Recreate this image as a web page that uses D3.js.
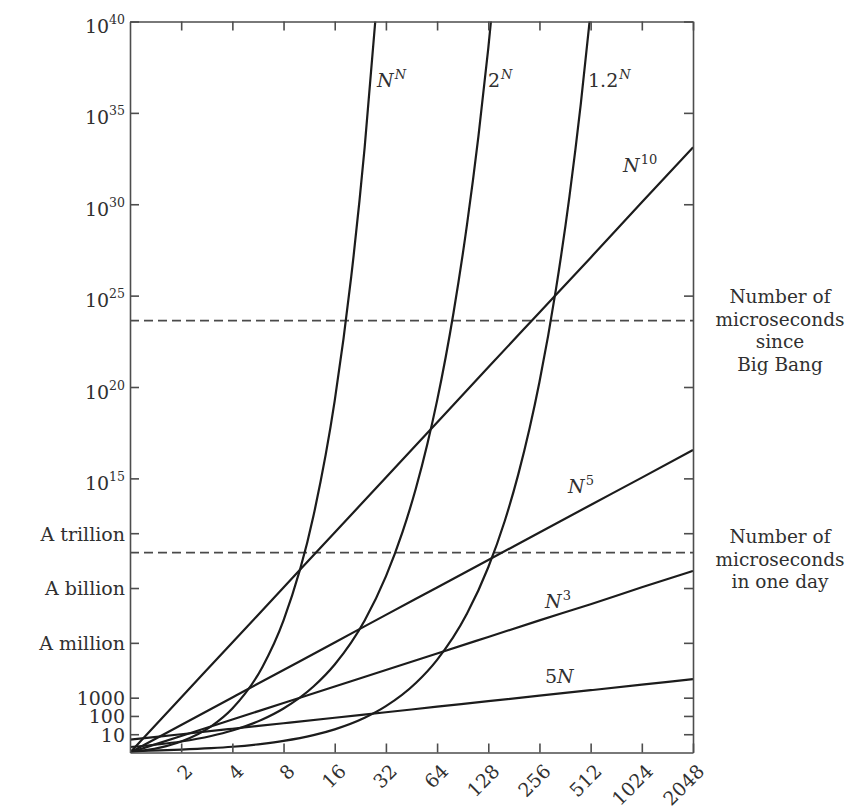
<!DOCTYPE html>
<html>
<head>
<meta charset="utf-8">
<script src="https://cdn.jsdelivr.net/npm/d3@7"></script>
<style>
    body { margin: 0; background: #fff; }
    svg text { font-family: "DejaVu Serif", serif; fill: #303030; }
</style>
</head>
<body>
<div id="chart"></div>
<script>
/*
* Growth of running times: N on a doubling axis, time on a log axis up to 10^40
*/

// Tick values and labels
var nTicks = [2, 4, 8, 16, 32, 64, 128, 256, 512, 1024, 2048];
var yTickValues = [1e40, 1e35, 1e30, 1e25, 1e20, 1e15, 1e12, 1e9, 1e6, 1000, 100, 10];
var yTickText = ["10", "10", "10", "10", "10", "10", "A trillion", "A billion", "A million", "1000", "100", "10"];
var yTickExp = ["40", "35", "30", "25", "20", "15", "", "", "", "", "", ""];

// Power curves, read at N = 1, 2, 4 ... 2048
var nPow = [1, 2, 4, 8, 16, 32, 64, 128, 256, 512, 1024, 2048];
var val5N = [5, 10, 20, 40, 80, 160, 320, 640, 1280, 2560, 5120, 10240];
var valN3 = [1, 8, 64, 512, 4096, 32768, 2.6e5, 2.1e6, 1.7e7, 1.3e8, 1.1e9, 8.6e9];
var valN5 = [1, 32, 1024, 32768, 1.05e6, 3.4e7, 1.07e9, 3.4e10, 1.1e12, 3.5e13, 1.1e15, 3.6e16];
var valN10 = [1, 1024, 1.05e6, 1.07e9, 1.1e12, 1.1e15, 1.15e18, 1.2e21, 1.2e24, 1.2e27, 1.3e30, 1.3e33];

// Exponential curves, read more densely since they bend
var nNN = [1, 1.5, 2, 3, 4, 6, 8, 12, 16, 20, 24, 28, 32];
var valNN = [1, 1.84, 4, 27, 256, 46656, 1.68e7, 8.9e12, 1.8e19, 1.05e26, 1.3e33, 3.3e40, 1.5e48];
var n2N = [1, 1.5, 2, 3, 4, 6, 8, 12, 16, 24, 32, 40, 48, 56, 64, 80, 96, 112, 128, 144];
var val2N = [2, 2.83, 4, 8, 16, 64, 256, 4096, 65536, 1.68e7, 4.3e9, 1.1e12, 2.8e14, 7.2e16, 1.8e19, 1.2e24, 7.9e28, 5.2e33, 3.4e38, 2.2e43];
var n12N = [1, 1.5, 2, 3, 4, 6, 8, 12, 16, 24, 32, 48, 64, 96, 128, 160, 192, 224, 256, 320, 384, 448, 512, 576];
var val12N = [1.2, 1.31, 1.44, 1.73, 2.07, 2.99, 4.3, 8.9, 18.5, 79.5, 342, 6320, 1.17e5, 4.0e7, 1.37e10, 4.67e12, 1.6e15, 5.46e17, 1.86e20, 2.18e25, 2.55e30, 2.97e35, 3.47e40, 4.0e45];

// Reference levels (dashed)
var refValues = [4.3e23, 8.64e10];
var refText = [["Number of", "microseconds", "since", "Big Bang"], ["Number of", "microseconds", "in one day"]];

// Curve names: [text, italic, superscript]
var curveNames = [
    [["N", 1, 0], ["N", 1, 1]],
    [["2", 0, 0], ["N", 1, 1]],
    [["1.2", 0, 0], ["N", 1, 1]],
    [["N", 1, 0], ["10", 0, 1]],
    [["N", 1, 0], ["5", 0, 1]],
    [["N", 1, 0], ["3", 0, 1]],
    [["5", 0, 0], ["N", 1, 0]]
];

var series = [
    {n: nNN, v: valNN},
    {n: n2N, v: val2N},
    {n: n12N, v: val12N},
    {n: nPow, v: valN10},
    {n: nPow, v: valN5},
    {n: nPow, v: valN3},
    {n: nPow, v: val5N}
];

// layout
var plotLeft = 130, plotRight = 693, plotTop = 21.5, plotBottom = 752.5;
var namePos = [[377, 87], [488, 87], [588, 87], [623, 172], [568, 493], [545, 608], [545, 683]];
var refLabelY = [303, 543];

var svg = d3.select("#chart")
    .append("svg")
    .attr("width", 852)
    .attr("height", 810);

svg.append("rect").attr("width", 852).attr("height", 810).attr("fill", "#fff");

var x = d3.scaleLog().base(2).domain([1, 2048]).range([plotLeft, plotRight]);
var y = d3.scaleLog().domain([1, 1e40]).range([plotBottom, plotTop]);

svg.append("clipPath").attr("id", "plotclip")
    .append("rect")
    .attr("x", plotLeft).attr("y", plotTop)
    .attr("width", plotRight - plotLeft).attr("height", plotBottom - plotTop);

// Dashed reference lines
svg.append("g")
    .selectAll("line")
    .data(refValues)
    .enter()
    .append("line")
    .attr("x1", plotLeft)
    .attr("x2", plotRight)
    .attr("y1", function (d) { return y(d); })
    .attr("y2", function (d) { return y(d); })
    .attr("stroke", "#4a4a4a")
    .attr("stroke-width", 1.6)
    .attr("stroke-dasharray", "9,5");

// Curves
var line = d3.line()
    .x(function (d) { return x(d[0]); })
    .y(function (d) { return y(d[1]); })
    .curve(d3.curveMonotoneX);

svg.append("g")
    .attr("clip-path", "url(#plotclip)")
    .selectAll("path")
    .data(series)
    .enter()
    .append("path")
    .attr("d", function (s) {
        return line(s.n.map(function (n, i) { return [n, s.v[i]]; }));
    })
    .attr("fill", "none")
    .attr("stroke", "#1c1c1c")
    .attr("stroke-width", 2.2);

// Axes, all ticks point inward
function styleAxis(g) {
    g.selectAll("path, line").attr("stroke", "#4d4d4d").attr("stroke-width", 1.6);
}

var yLeft = svg.append("g")
    .attr("transform", "translate(" + plotLeft + ",0)")
    .call(d3.axisLeft(y).tickValues(yTickValues).tickSizeInner(-9).tickSizeOuter(0).tickPadding(5))
    .call(styleAxis);

yLeft.selectAll("text")
    .attr("font-size", "19px")
    .attr("font-family", null)
    .each(function (d, i) {
        var t = d3.select(this).text(yTickText[i]);
        if (yTickExp[i]) {
            t.attr("dy", null).attr("y", 11);
            t.append("tspan").attr("dy", -9).attr("font-size", "12.5px").text(yTickExp[i]);
        } else {
            t.attr("dy", "0.36em");
        }
    });

svg.append("g")
    .attr("transform", "translate(" + plotRight + ",0)")
    .call(d3.axisRight(y).tickValues(yTickValues).tickSizeInner(-9).tickSizeOuter(0).tickFormat(""))
    .call(styleAxis);

svg.append("g")
    .attr("transform", "translate(0," + plotTop + ")")
    .call(d3.axisTop(x).tickValues(nTicks).tickSizeInner(-9).tickSizeOuter(0).tickFormat(""))
    .call(styleAxis);

var xBottom = svg.append("g")
    .attr("transform", "translate(0," + plotBottom + ")")
    .call(d3.axisBottom(x).tickValues(nTicks).tickSizeInner(-9).tickSizeOuter(0).tickFormat(d3.format("d")))
    .call(styleAxis);

xBottom.selectAll("text")
    .attr("font-size", "19px")
    .attr("font-family", null)
    .attr("text-anchor", "end")
    .attr("x", 0)
    .attr("y", 0)
    .attr("dy", null)
    .attr("transform", "translate(12,20) rotate(-45)");

// Curve names
svg.append("g")
    .selectAll("text")
    .data(curveNames)
    .enter()
    .append("text")
    .attr("x", function (d, i) { return namePos[i][0]; })
    .attr("y", function (d, i) { return namePos[i][1]; })
    .attr("font-size", "19px")
    .each(function (parts) {
        var t = d3.select(this);
        var raised = false;
        parts.forEach(function (p) {
            var span = t.append("tspan").text(p[0]);
            if (p[1]) span.attr("font-style", "italic");
            if (p[2] && !raised) {
                span.attr("dy", -8).attr("font-size", "13px").attr("dx", 1);
                raised = true;
            }
        });
    });

// Reference labels to the right of the frame
refText.forEach(function (lines, k) {
    var t = svg.append("text")
        .attr("x", 780)
        .attr("y", refLabelY[k])
        .attr("text-anchor", "middle")
        .attr("font-size", "18.5px");
    lines.forEach(function (s, j) {
        t.append("tspan")
            .attr("x", 780)
            .attr("dy", j === 0 ? 0 : 22.5)
            .text(s);
    });
});
</script>
</body>
</html>
